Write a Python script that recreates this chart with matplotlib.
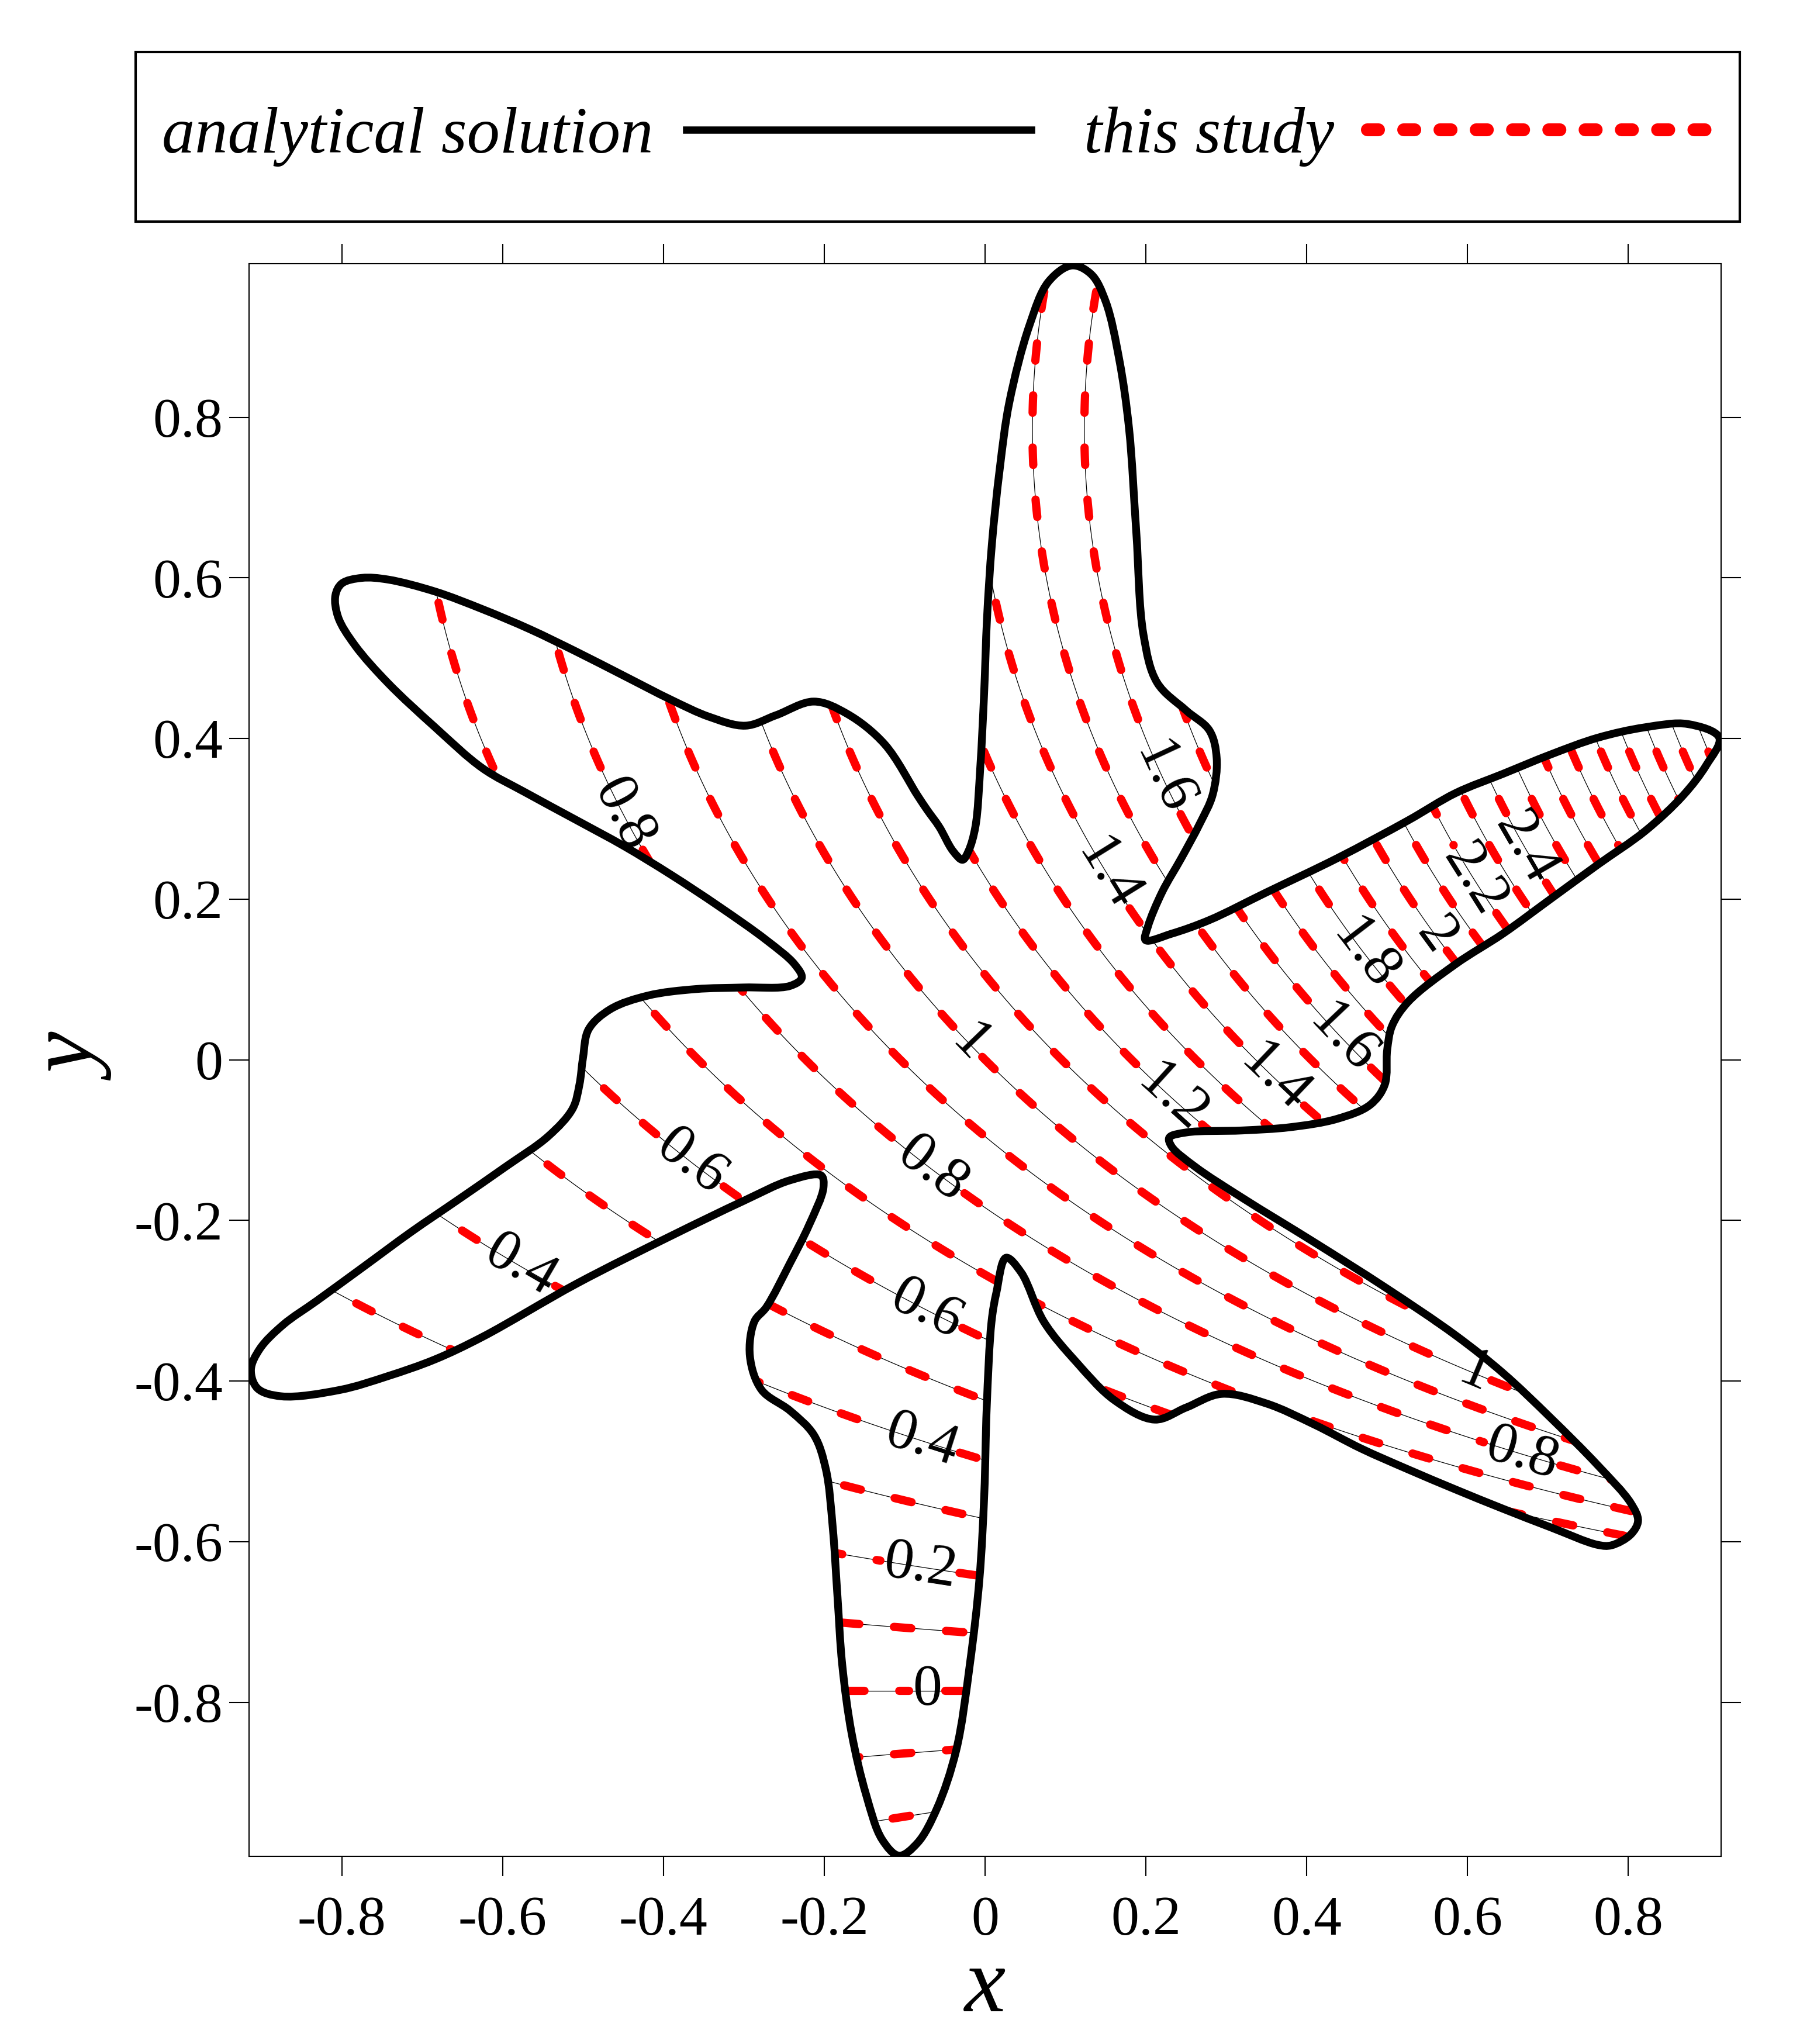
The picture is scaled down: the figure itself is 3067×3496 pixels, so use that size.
import numpy as np
import matplotlib
matplotlib.use("Agg")
import matplotlib.pyplot as plt
from matplotlib.path import Path
from matplotlib.patches import PathPatch, Rectangle
from matplotlib.lines import Line2D

plt.rcParams["font.family"] = ["Liberation Serif", "DejaVu Serif"]

# ── Domain boundary (counter-clockwise from right tip) ──
bnd_x = [0.913, 0.874, 0.821, 0.762, 0.703, 0.644, 0.585, 0.526, 0.438, 0.350,
         0.279, 0.232, 0.1995, 0.2025, 0.220, 0.244, 0.267, 0.283, 0.288, 0.279,
         0.250, 0.214, 0.197, 0.188, 0.179, 0.167, 0.150, 0.132, 0.108, 0.079,
         0.055, 0.030, 0.0182, 0.0085, 0.0024, -0.0012, -0.006, -0.0121, -0.0206, -0.028,
         -0.040, -0.057, -0.072, -0.084, -0.125, -0.172, -0.213, -0.260, -0.298, -0.343,
         -0.390, -0.449, -0.508, -0.566, -0.625, -0.684, -0.743, -0.775, -0.800, -0.808,
         -0.8045, -0.784, -0.743, -0.684, -0.625, -0.572, -0.5075, -0.449, -0.390, -0.331,
         -0.272, -0.237, -0.228, -0.2425, -0.301, -0.360, -0.419, -0.466, -0.493, -0.500,
         -0.5045, -0.513, -0.543, -0.596, -0.655, -0.714, -0.772, -0.831, -0.873, -0.902,
         -0.913, -0.905, -0.8755, -0.802, -0.743, -0.684, -0.625, -0.5075, -0.390, -0.301,
         -0.2425, -0.204, -0.201, -0.219, -0.2425, -0.272, -0.287, -0.2925, -0.278, -0.2425,
         -0.213, -0.198, -0.1895, -0.1836, -0.1777, -0.166, -0.148, -0.128, -0.107, -0.084,
         -0.060, -0.036, -0.019, -0.007, -0.001, 0.002, 0.008, 0.014, 0.026, 0.045,
         0.073, 0.114, 0.161, 0.211, 0.250, 0.294, 0.350, 0.409, 0.4675, 0.526,
         0.585, 0.644, 0.703, 0.762, 0.779, 0.803, 0.812, 0.803, 0.762, 0.703,
         0.644, 0.585, 0.497, 0.409, 0.320, 0.261, 0.232, 0.229, 0.250, 0.320,
         0.379, 0.438, 0.479, 0.497, 0.500, 0.506, 0.526, 0.585, 0.644, 0.703,
         0.762, 0.821, 0.868, 0.897]
bnd_y = [0.401, 0.418, 0.414, 0.401, 0.380, 0.356, 0.332, 0.298, 0.251, 0.2085,
         0.174, 0.157, 0.149, 0.166, 0.2085, 0.251, 0.294, 0.330, 0.3755, 0.410,
         0.435, 0.4695, 0.529, 0.657, 0.786, 0.871, 0.944, 0.978, 0.989, 0.969,
         0.914, 0.818, 0.7356, 0.6427, 0.550, 0.457, 0.364, 0.290, 0.260, 0.249,
         0.260, 0.290, 0.311, 0.329, 0.393, 0.431, 0.446, 0.429, 0.416, 0.427,
         0.448, 0.478, 0.508, 0.536, 0.561, 0.583, 0.598, 0.600, 0.593, 0.578,
         0.551, 0.5165, 0.4695, 0.414, 0.363, 0.333, 0.298, 0.266, 0.230, 0.191,
         0.149, 0.119, 0.102, 0.092, 0.090, 0.088, 0.080, 0.063, 0.038, 0.003,
         -0.031, -0.061, -0.095, -0.133, -0.174, -0.2145, -0.257, -0.300, -0.330, -0.360,
         -0.386, -0.409, -0.419, -0.411, -0.394, -0.373, -0.345, -0.2785, -0.219, -0.176,
         -0.150, -0.144, -0.159, -0.206, -0.253, -0.308, -0.326, -0.369, -0.411, -0.437,
         -0.467, -0.510, -0.582, -0.668, -0.753, -0.8385, -0.915, -0.971, -0.991, -0.975,
         -0.9325, -0.860, -0.753, -0.646, -0.540, -0.433, -0.326, -0.290, -0.2465, -0.265,
         -0.326, -0.377, -0.424, -0.448, -0.433, -0.416, -0.428, -0.454, -0.484, -0.510,
         -0.535, -0.559, -0.582, -0.604, -0.6045, -0.591, -0.574, -0.552, -0.505, -0.4455,
         -0.390, -0.343, -0.283, -0.227, -0.172, -0.133, -0.108, -0.097, -0.0905, -0.088,
         -0.084, -0.0735, -0.056, -0.031, 0.012, 0.042, 0.072, 0.119, 0.157, 0.200,
         0.243, 0.285, 0.329, 0.367]

# contour levels of the solution; the labelled ones are kept apart
plain_levels = [-0.2, -0.1, 0.1, 0.3, 0.5, 0.7, 0.9, 1.1, 1.3, 1.5, 1.7, 1.9,
                2.1, 2.3, 2.5, 2.6, 2.7, 2.8, 2.9, 3.0, 3.1, 3.2]
labeled_levels = [0.0, 0.2, 0.4, 0.6, 0.8, 1.0, 1.2, 1.4, 1.6, 1.8, 2.0, 2.2, 2.4]

ticks = [-0.8, -0.6, -0.4, -0.2, 0.0, 0.2, 0.4, 0.6, 0.8]
tick_labels = ["-0.8", "-0.6", "-0.4", "-0.2", "0", "0.2", "0.4", "0.6", "0.8"]

legend_names = ["analytical solution", "this study"]

# where the contour labels sit (layout)
label_spots = [(0.224, 0.352), (0.155, 0.232), (-0.45, 0.305), (0.673, 0.264),
               (0.603, 0.221), (0.559, 0.153), (0.473, 0.132), (0.444, 0.025),
               (0.361, -0.022), (0.232, -0.048), (-0.019, 0.020), (-0.066, -0.137),
               (-0.366, -0.129), (-0.578, -0.257), (-0.072, -0.31), (-0.078, -0.471),
               (-0.081, -0.631), (-0.072, -0.785), (0.609, -0.39), (0.668, -0.490)]


def smooth_closed_path(xs, ys, alpha=0.5):
    # centripetal Catmull-Rom through the points, as cubic Bezier segments
    P = np.column_stack([xs, ys])
    n = len(P)
    verts = [P[0]]
    codes = [Path.MOVETO]
    for i in range(n):
        p0, p1, p2, p3 = P[i - 1], P[i], P[(i + 1) % n], P[(i + 2) % n]
        d1 = np.hypot(*(p1 - p0)) ** alpha
        d2 = np.hypot(*(p2 - p1)) ** alpha
        d3 = np.hypot(*(p3 - p2)) ** alpha
        b1 = (d1**2 * p2 - d2**2 * p0 + (2*d1**2 + 3*d1*d2 + d2**2) * p1) / (3*d1*(d1 + d2))
        b2 = (d3**2 * p1 - d2**2 * p3 + (2*d3**2 + 3*d3*d2 + d2**2) * p2) / (3*d3*(d3 + d2))
        verts += [b1, b2, p2]
        codes += [Path.CURVE4] * 3
    verts.append(P[0])
    codes.append(Path.CLOSEPOLY)
    return Path(verts, codes)


fig = plt.figure(figsize=(3067 / 300, 3496 / 300), dpi=300)
ax = fig.add_axes([0.13906, 0.09173, 0.82071, 0.77938])
ax.set_xlim(-0.915, 0.915)
ax.set_ylim(-0.992, 0.9915)

boundary = smooth_closed_path(bnd_x, bnd_y)
clip = PathPatch(boundary, transform=ax.transData, facecolor="none", edgecolor="none")

# analytical solution u = e^x (sin y + cos y)
xg = np.linspace(-0.95, 0.95, 761)
yg = np.linspace(-1.02, 1.02, 817)
X, Y = np.meshgrid(xg, yg)
U = np.exp(X) * (np.sin(Y) + np.cos(Y))

exact_sets = []
num_sets = []
for lev in (plain_levels, labeled_levels):
    cs = ax.contour(X, Y, U, levels=lev, colors="black", linewidths=0.3,
                    linestyles="solid", zorder=2)
    cs.set_clip_path(clip)
    exact_sets.append(cs)
    cs = ax.contour(X, Y, U, levels=lev, colors="#ff0000", linewidths=3.4,
                    linestyles="solid", zorder=3)
    cs.set_linestyle((0, (2.1, 4.2)))
    cs.set_capstyle("round")
    cs.set_clip_path(clip)
    num_sets.append(cs)

# gaps for the labels in the dashed lines, without text there
num_sets[1].clabel(manual=label_spots, inline=True, fontsize=24, fmt="%g",
                   inline_spacing=6)
for t in list(num_sets[1].labelTexts):
    t.remove()

exact_sets[1].clabel(manual=label_spots, inline=False, fontsize=24, fmt="%g",
                     colors="black", zorder=6)

ax.add_patch(PathPatch(boundary, facecolor="none", edgecolor="black", lw=3.2,
                       joinstyle="round", zorder=4))

ax.set_xticks(ticks)
ax.set_xticklabels(tick_labels)
ax.set_yticks(ticks)
ax.set_yticklabels(tick_labels)
ax.tick_params(direction="out", length=8.2, width=0.5, top=True, right=True,
               labelsize=23)
ax.tick_params(axis="x", pad=8)
ax.tick_params(axis="y", pad=2.7)
for s in ax.spines.values():
    s.set_linewidth(0.5)

ax.set_xlabel("x", fontsize=38, style="italic", labelpad=0)
ax.set_ylabel("y", fontsize=38, style="italic", labelpad=6)

handles = [Line2D([], [], color="black", lw=3.0),
           Line2D([], [], color="#ff0000", lw=5.3, linestyle=(0, (0.86, 1.95)),
                  dash_capstyle="round")]
fig.legend(handles, legend_names, loc="center", bbox_to_anchor=(0.5227, 0.9331),
           ncol=2, frameon=False, markerfirst=False, handlelength=5.25,
           handletextpad=0.5, columnspacing=0.8,
           prop={"size": 27, "style": "italic"})
fig.add_artist(Rectangle((0.0756, 0.8916), 0.8947, 0.0830, transform=fig.transFigure,
                         fill=False, edgecolor="black", lw=1.0))

fig.savefig("out.png", dpi=300)
